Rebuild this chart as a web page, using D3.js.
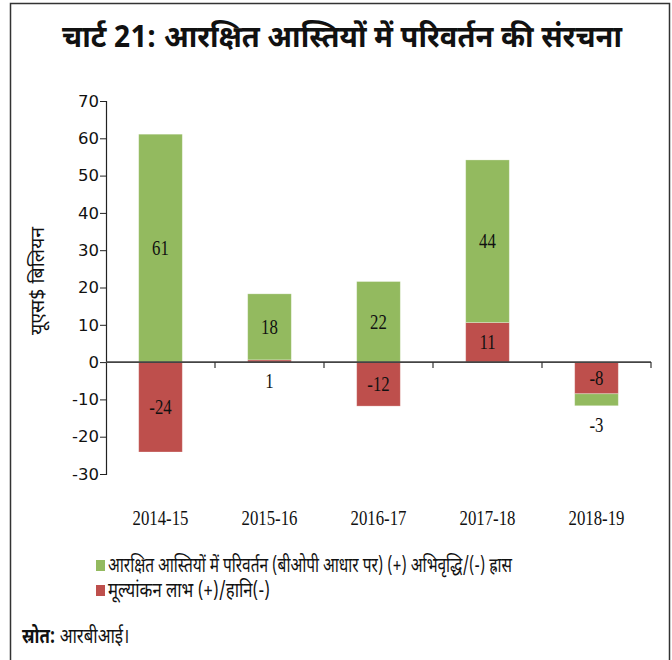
<!DOCTYPE html>
<html>
<head>
<meta charset="utf-8">
<script src="https://cdn.jsdelivr.net/npm/d3@7"></script>
<style>
  body { margin: 0; background: #fff; }
  svg { display: block; }
  .hi { font-family: "Noto Sans Devanagari", "Lohit Devanagari", "Noto Sans", sans-serif; fill: #111; }
</style>
</head>
<body>
<svg id="chart" width="672" height="660"></svg>
<script>
var years = ["2014-15", "2015-16", "2016-17", "2017-18", "2018-19"];
var changeBop = [61.1, 17.7, 21.6, 43.6, -3.2];   // green
var valuation = [-24.1, 0.6, -11.8, 10.6, -8.5];  // red
var yTicks = [70, 60, 50, 40, 30, 20, 10, 0, -10, -20, -30];

var seriesNames = [
  "आरक्षित आस्तियों में परिवर्तन (बीओपी आधार पर) (+) अभिवृद्धि/(-) ह्रास",
  "मूल्यांकन लाभ (+)/हानि(-)"
];
var legendWidths = [404, 162];
var colors = ["#93ba5f", "#be4f4c"];

// plain hyphen instead of the unicode minus
function fmt(v) { return String(Math.round(v)); }

var svg = d3.select("#chart");

// outer frame
svg.append("rect")
  .attr("x", 10.5).attr("y", 3.5)
  .attr("width", 659).attr("height", 670)
  .attr("fill", "none").attr("stroke", "#333").attr("stroke-width", 1.5);

svg.append("text")
  .attr("class", "hi")
  .attr("x", 62).attr("y", 47)
  .attr("font-size", 30).attr("font-weight", "bold")
  .attr("textLength", 560).attr("lengthAdjust", "spacingAndGlyphs")
  .text("चार्ट 21: आरक्षित आस्तियों में परिवर्तन की संरचना");

var x = d3.scaleBand().domain(years).range([106, 651]).paddingInner(0.6).paddingOuter(0.3);
var y = d3.scaleLinear().domain([-30, 70]).range([474, 101]);

// stack: valuation sits on the axis, the BOP change goes on top of it
var stacked = years.map(function(yr, i) {
  var r = valuation[i], g = changeBop[i];
  var rs = [0, r];
  var gs = (r >= 0) === (g >= 0) ? [r, r + g] : [0, g];
  return { year: yr, segs: [
    { s: 1, v: r, y0: rs[0], y1: rs[1] },
    { s: 0, v: g, y0: gs[0], y1: gs[1] }
  ]};
});

var gBars = svg.append("g");
stacked.forEach(function(d) {
  d.segs.forEach(function(s) {
    gBars.append("rect")
      .attr("x", x(d.year))
      .attr("width", x.bandwidth())
      .attr("y", y(Math.max(s.y0, s.y1)))
      .attr("height", Math.abs(y(s.y0) - y(s.y1)))
      .attr("fill", colors[s.s])
      .attr("stroke", "#ffffff").attr("stroke-opacity", 0.35).attr("stroke-width", 0.8);
  });
});

// y axis
var yAxis = svg.append("g")
  .attr("transform", "translate(106,0)")
  .call(d3.axisLeft(y).tickValues(yTicks).tickSize(6).tickPadding(1).tickFormat(fmt));
yAxis.select(".domain").attr("stroke", "#222").attr("stroke-width", 1.2);
yAxis.selectAll(".tick line").attr("stroke", "#222");
yAxis.selectAll("text")
  .attr("font-family", "DejaVu Sans, sans-serif").attr("font-size", 16.5).attr("fill", "#111");

// zero line with ticks at band boundaries
svg.append("line")
  .attr("x1", 106).attr("x2", 651)
  .attr("y1", y(0)).attr("y2", y(0))
  .attr("stroke", "#444").attr("stroke-width", 1.6);
var step = x.step();
years.forEach(function(yr, i) {
  var bx = x(yr) + x.bandwidth() / 2 + step / 2;
  svg.append("line")
    .attr("x1", bx).attr("x2", bx)
    .attr("y1", y(0)).attr("y2", y(0) + 6)
    .attr("stroke", "#333").attr("stroke-width", 1.2);
});

function serifText(sel, tx, ty, str) {
  sel.append("text")
    .attr("transform", "translate(" + tx + "," + ty + ") scale(0.8,1)")
    .attr("text-anchor", "middle")
    .attr("font-family", "Liberation Serif, serif")
    .attr("font-size", 21)
    .attr("fill", "#111")
    .text(str);
}

// data labels
var gLab = svg.append("g");
stacked.forEach(function(d) {
  var cx = x(d.year) + x.bandwidth() / 2;
  d.segs.forEach(function(s) {
    var txt = fmt(s.v);
    if (Math.abs(s.v) < 5) {
      var low = Math.min(s.y0, s.y1);
      serifText(gLab, cx, y(low) + 26, txt);
    } else {
      serifText(gLab, cx, y((s.y0 + s.y1) / 2) + 7, txt);
    }
  });
});

// category labels
years.forEach(function(yr) {
  serifText(svg, x(yr) + x.bandwidth() / 2, 525, yr);
});

// y title
svg.append("text")
  .attr("class", "hi")
  .attr("transform", "translate(44,281) rotate(-90)")
  .attr("text-anchor", "middle")
  .attr("font-size", 19.5)
  .text("यूएस$ बिलियन");

// legend
var leg = svg.append("g");
seriesNames.forEach(function(n, i) {
  var ly = 566 + i * 25;
  leg.append("rect")
    .attr("x", 96).attr("y", ly - 6)
    .attr("width", 9).attr("height", 11)
    .attr("fill", colors[i]);
  leg.append("text")
    .attr("class", "hi")
    .attr("x", 108).attr("y", ly + 6)
    .attr("font-size", 20)
    .attr("textLength", legendWidths[i]).attr("lengthAdjust", "spacingAndGlyphs")
    .text(n);
});

// source
var src = svg.append("text")
  .attr("class", "hi")
  .attr("transform", "translate(22,643) scale(0.8,1)")
  .attr("font-size", 21);
src.append("tspan").attr("font-weight", "bold").text("स्रोत:");
src.append("tspan").text(" आरबीआई।");
</script>
</body>
</html>
